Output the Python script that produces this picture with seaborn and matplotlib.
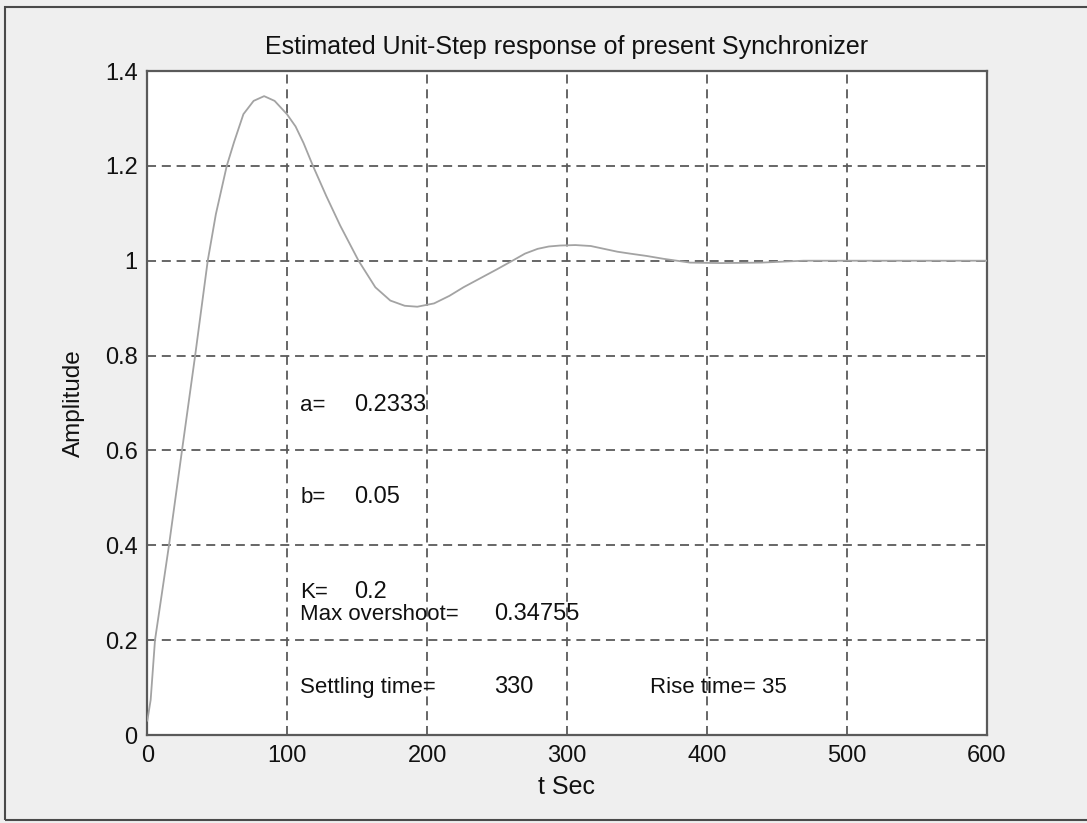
import matplotlib
matplotlib.use("Agg")
import matplotlib.pyplot as plt
import seaborn as sns
import pandas as pd
from matplotlib.patches import Rectangle

# Data
t_sec = [0, 2.4, 5.5, 15.5, 24.8, 29.5, 34.2, 38.7, 43.2, 49, 56.8, 62, 68.7, 76,
         83.5, 91, 99.8, 106, 111.7, 118.4, 128, 137.9, 151, 163, 173.7, 184, 193,
         205, 216, 226, 238, 250, 261, 270, 279, 287, 295, 306, 317, 336, 345, 357,
         369, 388, 410, 439, 469, 500, 550, 600]
amplitude = [0.03, 0.074, 0.2, 0.4, 0.6, 0.7, 0.8, 0.9, 1.0, 1.098, 1.2, 1.25,
             1.309, 1.337, 1.347, 1.337, 1.309, 1.283, 1.248, 1.2, 1.136, 1.074,
             1.0, 0.944, 0.916, 0.905, 0.903, 0.91, 0.926, 0.944, 0.963, 0.982,
             1.0, 1.015, 1.025, 1.03, 1.032, 1.033, 1.031, 1.019, 1.015, 1.01,
             1.004, 0.996, 0.995, 0.996, 1.0, 1.0, 1.0, 1.0]
x_ticks = [0, 100, 200, 300, 400, 500, 600]
y_ticks = [0, 0.2, 0.4, 0.6, 0.8, 1.0, 1.2, 1.4]
y_ticklabels = ["0", "0.2", "0.4", "0.6", "0.8", "1", "1.2", "1.4"]
title = "Estimated Unit-Step response of present Synchronizer"

df = pd.DataFrame({"t": t_sec, "y": amplitude})

sns.set_style("white")
plt.rcParams["font.family"] = ["Liberation Sans", "DejaVu Sans"]

W, H = 1087, 823
fig = plt.figure(figsize=(W / 100, H / 100), dpi=100, facecolor="#efefef")
ax = fig.add_axes([147.3 / W, 1 - 735 / H, (986.7 - 147.3) / W, (735 - 71) / H])
ax.set_facecolor("white")

# outer frame
fig.patches.append(Rectangle((5 / W, 1 - 820 / H), 1.2, (820 - 7) / H,
                             transform=fig.transFigure, fill=False,
                             edgecolor="#4a4a4a", linewidth=1.5, zorder=0))

sns.lineplot(data=df, x="t", y="y", ax=ax, color="#a3a3a3", linewidth=1.3,
             estimator=None, sort=False, zorder=3)

ax.set_xlim(0, 600)
ax.set_ylim(0, 1.4)
ax.set_xticks(x_ticks)
ax.set_yticks(y_ticks)
ax.set_yticklabels(y_ticklabels)
ax.grid(True, color="#5a5a5a", linestyle=(0, (5, 3.2)), linewidth=1.3)
ax.tick_params(direction="in", length=5, color="#5a5a5a", labelsize=17,
               labelcolor="#111111", pad=7)
for s in ax.spines.values():
    s.set_color("#5a5a5a")
    s.set_linewidth(1.6)

ax.set_title(title, fontsize=18, color="#111111", pad=12)
ax.set_xlabel("t Sec", fontsize=18, color="#111111", labelpad=6)
ax.set_ylabel("Amplitude", fontsize=17.5, color="#111111", labelpad=14)

fl = 16
fv = 17
tc = "#111111"
ax.text(109.3, 0.695, "a=", fontsize=fl, color=tc, ha="left", va="center")
ax.text(147.6, 0.695, "0.2333", fontsize=fv, color=tc, ha="left", va="center")
ax.text(109.3, 0.501, "b=", fontsize=fl, color=tc, ha="left", va="center")
ax.text(147.6, 0.501, "0.05", fontsize=fv, color=tc, ha="left", va="center")
ax.text(109.3, 0.301, "K=", fontsize=fl, color=tc, ha="left", va="center")
ax.text(147.6, 0.301, "0.2", fontsize=fv, color=tc, ha="left", va="center")
ax.text(109.3, 0.255, "Max overshoot=", fontsize=fl, color=tc, ha="left", va="center")
ax.text(247.7, 0.255, "0.34755", fontsize=fv, color=tc, ha="left", va="center")
ax.text(109.3, 0.101, "Settling time=", fontsize=fl, color=tc, ha="left", va="center")
ax.text(247.7, 0.101, "330", fontsize=fv, color=tc, ha="left", va="center")
ax.text(359.2, 0.101, "Rise time= 35", fontsize=fl, color=tc, ha="left", va="center")

fig.savefig("out.png", dpi=100, facecolor=fig.get_facecolor())
